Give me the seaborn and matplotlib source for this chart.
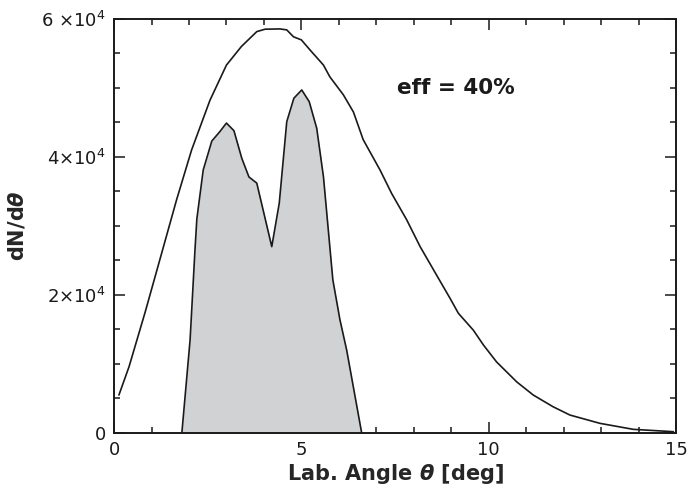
import numpy as np
import pandas as pd
import seaborn as sns
import matplotlib.pyplot as plt
from matplotlib.ticker import MultipleLocator, FixedLocator, FixedFormatter

# Données

# Courbe totale (toutes les particules)
theta_all = [0.13, 0.4, 0.83, 1.32, 1.67, 2.07, 2.56, 3.0, 3.4, 3.81, 4.03, 4.43,
             4.61, 4.79, 5.0, 5.23, 5.59, 5.76, 6.12, 6.39, 6.65, 7.1, 7.41, 7.81,
             8.17, 8.66, 8.97, 9.19, 9.59, 9.86, 10.21, 10.75, 11.19, 11.72, 12.17,
             12.97, 13.86, 14.93]
dn_all = [5500, 9600, 17500, 27000, 33800, 41000, 48200, 53300, 56000, 58150,
          58500, 58540, 58400, 57400, 56950, 55500, 53300, 51600, 49000, 46500,
          42500, 38100, 34700, 30900, 27000, 22400, 19500, 17350, 14900, 12750,
          10300, 7400, 5500, 3800, 2600, 1400, 530, 190]

# Courbe remplie (efficacité 40%)
theta_eff = [1.81, 2.03, 2.16, 2.21, 2.38, 2.61, 2.83, 3.0, 3.2, 3.41, 3.6, 3.81,
             4.21, 4.41, 4.61, 4.8, 5.01, 5.21, 5.41, 5.59, 5.84, 6.03, 6.21, 6.61]
dn_eff = [0, 13500, 26500, 31000, 38100, 42300, 43700, 44900, 43800, 39800, 37100,
          36200, 27000, 33300, 45100, 48500, 49700, 48000, 44150, 37100, 22200,
          16400, 12000, 0]

y_ticks = [0, 20000, 40000, 60000]
y_tick_labels = ["0", r"2$\times$10$^4$", r"4$\times$10$^4$", r"6 $\times$10$^4$"]
x_ticks = [0, 5, 10, 15]

df_all = pd.DataFrame({"theta": theta_all, "dn": dn_all})
df_eff = pd.DataFrame({"theta": theta_eff, "dn": dn_eff})

sns.set_style("ticks")
plt.rcParams["font.family"] = ["DejaVu Sans"]
plt.rcParams["mathtext.default"] = "regular"

fig = plt.figure(figsize=(6.87, 4.96), dpi=100)
ax = fig.add_axes([0.166, 0.127, 0.818, 0.835])

ax.fill_between(df_eff["theta"], df_eff["dn"], 0, color="#d1d2d4", linewidth=0)
sns.lineplot(data=df_eff, x="theta", y="dn", ax=ax, color="#1a1a1a", linewidth=1.2,
             sort=False, estimator=None)
sns.lineplot(data=df_all, x="theta", y="dn", ax=ax, color="#1a1a1a", linewidth=1.2,
             sort=False, estimator=None)

ax.set_xlim(0, 15)
ax.set_ylim(0, 60000)
ax.xaxis.set_major_locator(FixedLocator(x_ticks))
ax.xaxis.set_minor_locator(MultipleLocator(1))
ax.yaxis.set_major_locator(FixedLocator(y_ticks))
ax.yaxis.set_major_formatter(FixedFormatter(y_tick_labels))
ax.yaxis.set_minor_locator(MultipleLocator(5000))

ax.tick_params(which="both", direction="in", top=True, right=True, width=1.1,
               labelsize=13, colors="#1a1a1a")
ax.tick_params(which="major", length=8, pad=6)
ax.tick_params(which="minor", length=4.5)
for s in ax.spines.values():
    s.set_linewidth(1.4)
    s.set_color("#1a1a1a")

ax.set_xlabel(r"Lab. Angle $\mathbfit{\theta}$ [deg]", fontsize=15, fontweight="bold",
              labelpad=2)
ax.set_ylabel(r"dN/d$\mathbfit{\theta}$", fontsize=15, fontweight="bold", labelpad=10)

ax.text(7.55, 50000, "eff = 40%", fontsize=15.5, fontweight="bold",
        va="center", color="#1a1a1a")

fig.savefig("out.png", dpi=100)
